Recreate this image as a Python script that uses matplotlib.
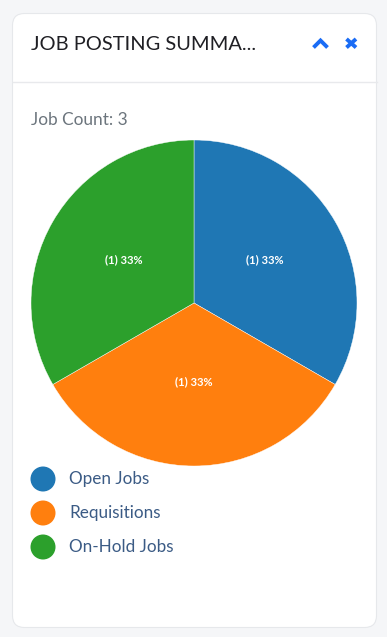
import matplotlib
matplotlib.use("Agg")
import matplotlib.pyplot as plt
from matplotlib.patches import FancyBboxPatch, Circle

categories = ["Open Jobs", "Requisitions", "On-Hold Jobs"]
values = [1, 1, 1]
colors = ["#1f77b4", "#ff7f0e", "#2ca02c"]
title = "JOB POSTING SUMMA..."
count_label = "Job Count: 3"

W, H = 387, 637
fig = plt.figure(figsize=(W / 100, H / 100), dpi=100)
fig.patch.set_facecolor("#f5f6f8")

bg = fig.add_axes([0, 0, 1, 1])
bg.set_xlim(0, W)
bg.set_ylim(H, 0)
bg.axis("off")

card = FancyBboxPatch((12.5, 13.5), 364, 614, boxstyle="round,pad=0,rounding_size=12",
                      facecolor="white", edgecolor="#e6e8eb", linewidth=0.8)
bg.add_patch(card)
bg.plot([12.5, 376.5], [82, 82], color="#e8e9ec", lw=1)

bg.text(31, 45, title, fontsize=14.4, family="Lato", color="#1f1f24", va="center", ha="left")
# chevron up
bg.plot([313.5, 320.5, 327.5], [47.5, 40.5, 47.5], color="#1a6cf5", lw=2.8,
        solid_capstyle="butt", solid_joinstyle="miter")
# x icon
bg.plot([346.5, 356], [39, 47.5], color="#1a6cf5", lw=2.8, solid_capstyle="butt")
bg.plot([346.5, 356], [47.5, 39], color="#1a6cf5", lw=2.8, solid_capstyle="butt")

bg.text(31, 120, count_label, fontsize=12.4, family="Lato",
        color="#6c757d", va="center", ha="left")

# legend
for i, (c, name) in enumerate(zip(colors, categories)):
    y = 479 + 34 * i
    bg.add_patch(Circle((43, y), 12.5, facecolor=c, edgecolor="none"))
    bg.text(69, y, name, fontsize=12.3, family="Lato", color="#3b5b85", va="center", ha="left")

# pie
cx, cy, r = 194, 303, 163
ax = fig.add_axes([(cx - r) / W, (H - cy - r) / H, 2 * r / W, 2 * r / H])
total = sum(values)
wedges, texts, autotexts = ax.pie(
    values, colors=colors, startangle=90, counterclock=False, radius=1,
    labels=None, labeldistance=None,
    autopct=lambda p: "({:d}) {:.0f}%".format(int(round(p * total / 100)), p),
    pctdistance=0.5,
    textprops=dict(color="white", fontsize=8, family="Lato", fontweight="bold"),
    wedgeprops=dict(linewidth=0.3, edgecolor="white"))
for t in autotexts:
    x, y = t.get_position()
    t.set_position((x, y + 2.5 / r))
ax.set_xlim(-1, 1)
ax.set_ylim(-1, 1)
ax.axis("off")

fig.savefig("out.png", dpi=100, facecolor=fig.get_facecolor())
